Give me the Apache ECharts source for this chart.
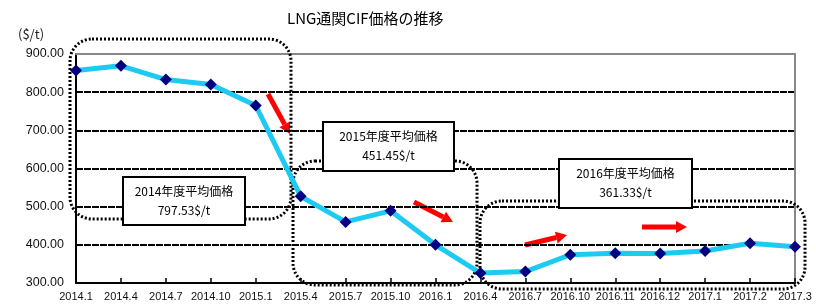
<!DOCTYPE html>
<html lang="ja">
<head>
	<meta charset="UTF-8">
	<title>LNG通関CIF価格の推移</title>
	<script src="https://cdn.jsdelivr.net/npm/echarts@6/dist/echarts.min.js" type="text/javascript"></script>
	<style>
		body{ margin:0; background:#fff; }
	</style>
</head>
<body>
	<div id="main" style="width: 816px;height:305px;"></div>
</body>
</html>

<script type="text/javascript">

var months = ['2014.1','2014.4','2014.7','2014.10','2015.1','2015.4','2015.7','2015.10','2016.1','2016.4','2016.7','2016.10','2016.11','2016.12','2017.1','2017.2','2017.3'];
var prices = [857, 869, 833, 820, 765, 527, 460, 489, 400, 326, 330, 374, 378, 377, 384, 404, 395];

var boxTitles = ['2014年度平均価格', '2015年度平均価格', '2016年度平均価格'];
var boxValues = ['797.53$/t', '451.45$/t', '361.33$/t'];

var jp = '"Noto Sans CJK JP", sans-serif';

// dotted rounded frames around each fiscal year
function frame(x, y, w, h) {
	return {
		type: 'rect', z: 1, silent: true,
		shape: { x: x, y: y, width: w, height: h, r: 22 },
		style: { fill: 'none', stroke: '#000', lineWidth: 3, lineDash: [2, 2] }
	};
}

// white box with the yearly average
function box(x, y, w, h, t1, t2) {
	return {
		type: 'group', z: 5,
		children: [
			{ type: 'rect', z: 5, shape: { x: x, y: y, width: w, height: h },
			  style: { fill: '#fff', stroke: '#000', lineWidth: 2 } },
			{ type: 'text', z: 6, x: x + w / 2, y: y + h / 2 - 10,
			  style: { text: t1, font: '12px ' + jp, fill: '#000', align: 'center', verticalAlign: 'middle' } },
			{ type: 'text', z: 6, x: x + w / 2, y: y + h / 2 + 9,
			  style: { text: t2, font: '12px ' + jp, fill: '#000', align: 'center', verticalAlign: 'middle' } }
		]
	};
}

// red arrow
function arrow(x1, y1, x2, y2) {
	var a = Math.atan2(y2 - y1, x2 - x1);
	var hl = 11, hw = 6;
	var bx = x2 - hl * Math.cos(a), by = y2 - hl * Math.sin(a);
	var px = -Math.sin(a), py = Math.cos(a);
	return {
		type: 'group', z: 4,
		children: [
			{ type: 'line', shape: { x1: x1, y1: y1, x2: bx, y2: by },
			  style: { stroke: '#ff0000', lineWidth: 5 } },
			{ type: 'polygon', shape: { points: [[x2, y2], [bx + px * hw, by + py * hw], [bx - px * hw, by - py * hw]] },
			  style: { fill: '#ff0000' } }
		]
	};
}

var mychart = echarts.init(document.getElementById('main'));

var option = {
	animation: false,
	backgroundColor: '#fff',
	title: {
		text: 'LNG通関CIF価格の推移',
		left: 282, top: 6,
		textStyle: { fontFamily: jp, fontSize: 15, fontWeight: 'normal', color: '#000' }
	},
	grid: { left: 76, right: 21, top: 54, bottom: 22 },
	xAxis: [{
		type: 'category',
		data: months,
		boundaryGap: false,
		axisLine: { lineStyle: { color: '#000', width: 2 } },
		axisTick: { inside: true, length: 5, lineStyle: { color: '#000', width: 1.5 } },
		axisLabel: { color: '#111', fontSize: 11, fontFamily: 'Arial', margin: 8, interval: 0 },
		splitLine: { show: false }
	}, {
		type: 'category',
		data: months,
		position: 'top',
		boundaryGap: false,
		axisLine: { lineStyle: { color: '#888', width: 2 } },
		axisTick: { show: false },
		axisLabel: { show: false }
	}],
	yAxis: [{
		type: 'value',
		min: 300, max: 900, interval: 100,
		axisLine: { show: true, lineStyle: { color: '#000', width: 2 } },
		axisTick: { show: false },
		axisLabel: {
			color: '#111', fontSize: 12.5, fontFamily: 'Arial', margin: 12,
			formatter: function (v) { return v.toFixed(2); }
		},
		splitLine: {
			lineStyle: { color: ['#000', '#000', '#000', '#000', '#000', '#000', '#888'], width: 2, type: [7, 1] }
		}
	}, {
		type: 'value',
		position: 'right',
		min: 300, max: 900, interval: 100,
		axisLine: { show: true, lineStyle: { color: '#888', width: 2 } },
		axisTick: { show: false },
		axisLabel: { show: false },
		splitLine: { show: false }
	}],
	series: [{
		name: 'LNG通関CIF価格',
		type: 'line',
		data: prices,
		z: 3,
		symbol: 'diamond',
		symbolSize: 12,
		itemStyle: { color: '#000080' },
		lineStyle: { color: '#1ccaf2', width: 5 }
	}],
	graphic: [
		{ type: 'text', left: 18, top: 28, z: 6,
		  style: { text: '($/t)', font: '13px ' + jp, fill: '#222' } },
		frame(70, 39, 221, 180),
		frame(293, 161, 184, 124),
		frame(480, 201, 325, 88),
		box(123, 177, 122, 48, boxTitles[0], boxValues[0]),
		box(323, 122, 131, 49, boxTitles[1], boxValues[1]),
		box(559, 159, 133, 49, boxTitles[2], boxValues[2]),
		arrow(268, 94, 290, 134),
		arrow(414, 202, 453, 222),
		arrow(525, 245, 567, 235),
		arrow(642, 227, 687, 227)
	]
};
mychart.setOption(option);
</script>
